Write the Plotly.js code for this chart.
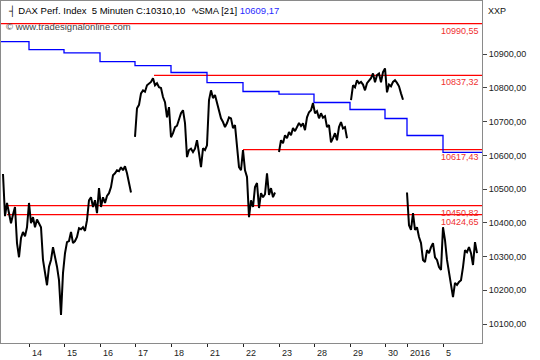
<!DOCTYPE html>
<html><head><meta charset="utf-8">
<script src="https://cdn.plot.ly/plotly-3.0.1.min.js"></script>
<style>html,body{margin:0;padding:0;background:#fff}#chart{width:540px;height:360px}</style>
</head><body><div id="chart"></div>
<script>
// DAX Perf. Index, 5-minute closes sampled along the chart (bar index order)
const segA = [10545,10420,10459,10425,10399,10425,10447,10340,10298,10355,10373,10360,10387,10459,10399,10417,10387,10410,10399,10387,
  10290,10250,10215,10270,10290,10328,10300,10270,10230,10127,10251,10310,10343,10346,10373,10340,10346,10358,10384,10381,
  10387,10376,10408,10467,10476,10447,10467,10429,10503,10447,10476,10459,10480,10488,10506,10541,10547,10556,10553,10565,
  10556,10568,10547,10518,10490];
const segB = [10655,10740,10750,10784,10793,10789,10808,10814,10818,10829,10808,10814,10802,10800,10773,10758,10713,10743,10654,10666,
  10684,10688,10704,10725,10734,10696,10595,10616,10620,10610,10620,10645,10607,10565,10621,10616,10630,10764,10793,10770,
  10779,10755,10734,10710,10699,10684,10696,10713,10710,10681,10690,10636,10565,10556,10616,10556,10536,10417,10467,10447,
  10506,10518,10444,10488,10476,10485,10547,10483,10503,10476,10490];
const segC = [10610,10645,10636,10660,10651,10669,10660,10681,10672,10684,10696,10687,10695,10675,10713,10728,10734,10755,10725,10731,
  10710,10725,10712,10716,10684,10690,10639,10651,10666,10645,10684,10699,10680,10684,10651];
const segD = [10764,10808,10802,10823,10814,10818,10810,10793,10814,10823,10829,10843,10817,10838,10843,10817,10847,10858,10787,10810,
  10805,10818,10823,10815,10805,10784,10765];
const segE = [10490,10393,10379,10429,10379,10387,10358,10340,10290,10284,10319,10310,10328,10340,10298,10290,10269,10260,10387,10349,
  10290,10251,10210,10180,10222,10216,10225,10230,10269,10319,10313,10328,10310,10275,10343,10310.10];
const price = [...segA, null, ...segB, null, ...segC, null, ...segD, null, ...segE];
const barIndex = price.map((_, i) => i);

// sessions (bar index where each session starts) and 21-period SMA per session
const sessionLabels = ['11','14','15','16','17','18','21','22','23','28','29','30','2016','5'];
const sessionStart  = [-1, 13, 30.5, 48.5, 66, 84, 102, 120, 138, 155.5, 173.5, 191, 202, 220];
const smaValues = [10937.6,10913.9,10903.9,10878.4,10866.5,10845.8,10816.1,10789.5,10781.5,10756.9,10736.1,10709.5,10659.1,10609.17];
const viewEnd = 239.5;

// horizontal levels
const levelValues = [10990.55, 10837.32, 10617.43, 10450.82, 10424.65];
const levelStart  = [-1, 75.5, 120, 2, 2];

const fmt = v => v.toFixed(2).replace('.', ',');
const FONT = 'Liberation Sans, Arial, sans-serif';

const traces = [];
levelValues.forEach((v, k) => traces.push({
  x: [levelStart[k], viewEnd], y: [v, v], mode: 'lines', type: 'scatter',
  line: {color: '#ff0000', width: 1.3}, hoverinfo: 'skip', showlegend: false
}));
traces.push({
  x: [...sessionStart, viewEnd], y: [...smaValues, smaValues[smaValues.length - 1]],
  mode: 'lines', type: 'scatter', line: {color: '#0000ff', width: 1.3, shape: 'hv'}, showlegend: false
});
traces.push({
  x: barIndex, y: price, mode: 'lines', type: 'scatter', connectgaps: false,
  line: {color: '#000000', width: 2}, showlegend: false
});

const annotations = levelValues.map(v => ({
  xref: 'paper', yref: 'y', x: 1, y: v, xanchor: 'right', yanchor: 'top', xshift: -1, yshift: 0,
  text: fmt(v), showarrow: false, font: {family: FONT, size: 9, color: '#f03030'}
}));
// session labels, left-aligned just right of their ticks
sessionLabels.slice(1).forEach((lab, k) => annotations.push({
  xref: 'x', yref: 'paper', x: sessionStart[k + 1], y: 0, xanchor: 'left', yanchor: 'top',
  xshift: 1, yshift: -3, text: lab, showarrow: false, font: {family: FONT, size: 9, color: '#222'}
}));
annotations.push({xref: 'paper', yref: 'paper', x: 1, y: 1, xanchor: 'left', yanchor: 'top', xshift: 4, yshift: -3,
  text: 'XXP', showarrow: false, font: {family: FONT, size: 9, color: '#111'}});
annotations.push({xref: 'paper', yref: 'paper', x: 0, y: 1, xanchor: 'left', yanchor: 'middle', xshift: 3, yshift: -25,
  text: '© www.tradesignalonline.com', showarrow: false, font: {family: FONT, size: 9.5, color: '#444'}});

const yTicks = [10100,10200,10300,10400,10500,10600,10700,10800,10900];

const layout = {
  width: 540, height: 360,
  margin: {l: 1, r: 58, t: 1, b: 17},
  paper_bgcolor: '#ffffff', plot_bgcolor: '#ffffff',
  separators: ',.',
  title: {
    text: '┤ DAX Perf. Index  5 Minuten C:10310,10  ∿SMA [21] <span style="color:#2a2aff">10609,17</span>',
    xref: 'container', yref: 'container', x: 9/540, y: 1 - 11/360, xanchor: 'left', yanchor: 'middle',
    font: {family: FONT, size: 9.5, color: '#000'}
  },
  xaxis: {
    range: [-1, viewEnd], showgrid: false, zeroline: false,
    showline: true, mirror: true, linecolor: '#8a8a8a', linewidth: 1,
    tickmode: 'array', tickvals: sessionStart.slice(1), showticklabels: false,
    ticks: 'outside', ticklen: 3, tickcolor: '#222'
  },
  yaxis: {
    range: [10043.7, 11057.9], side: 'right', showgrid: false, zeroline: false,
    showline: true, mirror: true, linecolor: '#8a8a8a', linewidth: 1,
    tickmode: 'array', tickvals: yTicks, ticktext: yTicks.map(fmt),
    ticks: 'outside', ticklen: 4, tickcolor: '#444',
    tickfont: {family: FONT, size: 9, color: '#222'}
  },
  annotations: annotations,
  showlegend: false
};

Plotly.newPlot('chart', traces, layout, {displayModeBar: false, staticPlot: true});
</script></body></html>
